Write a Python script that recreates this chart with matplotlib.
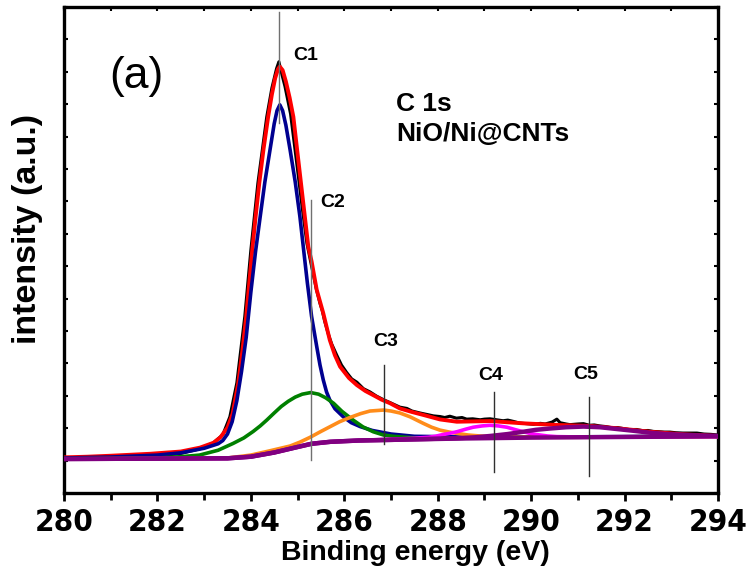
import matplotlib
matplotlib.use("Agg")
import matplotlib.pyplot as plt
from matplotlib.ticker import MultipleLocator
from matplotlib import font_manager
from matplotlib.font_manager import FontProperties

# ---------------- data ----------------
# binding energy (eV) / intensity (a.u.)
data_x = [280.0, 280.5, 281.0, 281.5, 282.0, 282.5, 282.9, 283.2, 283.4, 283.55,
          283.7, 283.87, 284.0, 284.15, 284.34, 284.45, 284.55, 284.6, 284.65, 284.73,
          284.85, 284.98, 285.1, 285.2, 285.3, 285.4, 285.48, 285.53, 285.58, 285.66,
          285.73, 285.84, 285.94, 286.05, 286.16, 286.27, 286.41, 286.55, 286.69, 286.84,
          286.98, 287.1, 287.19, 287.34, 287.45, 287.62, 287.75, 287.91, 288.05, 288.15,
          288.26, 288.4, 288.52, 288.62, 288.75, 288.91, 289.0, 289.12, 289.26, 289.4,
          289.5, 289.62, 289.75, 289.9, 290.05, 290.2, 290.3, 290.45, 290.55, 290.62,
          290.75, 290.83, 291.0, 291.12, 291.25, 291.35, 291.47, 291.6, 291.75, 291.85,
          291.97, 292.1, 292.26, 292.4, 292.5, 292.62, 292.75, 292.85, 292.97, 293.1,
          293.25, 293.4, 293.55, 293.7, 293.85, 294.0]
data_y = [1.05, 1.06, 1.08, 1.10, 1.14, 1.22, 1.36, 1.55, 1.80, 2.35,
          3.40, 5.45, 7.50, 9.56, 11.61, 12.50, 13.10, 13.31, 13.00, 12.55,
          11.70, 10.20, 8.80, 7.70, 7.00, 6.30, 5.85, 5.62, 5.30, 4.90,
          4.60, 4.25, 3.95, 3.72, 3.52, 3.42, 3.22, 3.12, 2.99, 2.88,
          2.79, 2.71, 2.65, 2.61, 2.53, 2.47, 2.43, 2.38, 2.36, 2.33,
          2.37, 2.31, 2.33, 2.28, 2.29, 2.26, 2.28, 2.29, 2.26, 2.23,
          2.25, 2.21, 2.16, 2.14, 2.12, 2.15, 2.13, 2.19, 2.28, 2.17,
          2.13, 2.11, 2.13, 2.14, 2.09, 2.10, 2.07, 2.05, 2.01, 2.02,
          1.99, 1.96, 1.96, 1.92, 1.93, 1.90, 1.89, 1.88, 1.88, 1.86,
          1.85, 1.85, 1.85, 1.82, 1.81, 1.79]

envelope_x = [280.0, 280.5, 281.0, 281.84, 282.5, 282.91, 283.2, 283.35, 283.5, 283.61,
              283.73, 283.82, 283.9, 284.03, 284.1, 284.18, 284.27, 284.37, 284.45, 284.52,
              284.58, 284.62, 284.68, 284.75, 284.83, 284.91, 284.99, 285.07, 285.15, 285.23,
              285.3, 285.41, 285.55, 285.69, 285.8, 285.91, 286.1, 286.27, 286.45, 286.62,
              286.8, 286.98, 287.19, 287.45, 287.69, 288.05, 288.41, 289.12, 289.83, 290.55,
              291.26, 291.83, 292.55, 293.26, 294.0]
envelope_y = [1.10, 1.12, 1.15, 1.21, 1.28, 1.40, 1.55, 1.72, 2.02, 2.45,
              3.39, 4.40, 5.44, 7.50, 8.50, 9.56, 10.60, 11.61, 12.30, 12.80,
              13.08, 13.16, 13.05, 12.70, 12.20, 11.61, 10.60, 9.60, 8.60, 7.60,
              7.15, 6.27, 5.55, 4.72, 4.25, 3.90, 3.55, 3.33, 3.15, 3.02,
              2.88, 2.77, 2.61, 2.50, 2.41, 2.27, 2.20, 2.22, 2.15, 2.10,
              2.07, 2.00, 1.89, 1.81, 1.76]

c1_x = [280.0, 281.0, 282.0, 282.5, 283.0, 283.3, 283.4, 283.5, 283.6, 283.7,
        283.8, 283.9, 284.0, 284.1, 284.2, 284.3, 284.41, 284.5, 284.56, 284.62,
        284.68, 284.75, 284.84, 284.95, 285.05, 285.13, 285.21, 285.3, 285.41, 285.48,
        285.55, 285.62, 285.69, 285.8, 285.98, 286.15, 286.34, 286.6, 287.0, 287.5,
        289.0, 292.0, 294.0]
c1_y = [1.08, 1.11, 1.17, 1.24, 1.38, 1.52, 1.62, 1.82, 2.20, 2.85,
        3.75, 4.80, 6.20, 7.45, 8.53, 9.60, 10.59, 11.40, 11.80, 11.98,
        11.80, 11.35, 10.59, 9.60, 8.53, 7.50, 6.48, 5.45, 4.52, 3.95,
        3.49, 3.12, 2.87, 2.60, 2.35, 2.17, 2.05, 1.93, 1.82, 1.75,
        1.72, 1.74, 1.75]

c2_x = [280.0, 282.0, 282.5, 282.9, 283.3, 283.62, 283.85, 284.05, 284.2, 284.34,
        284.5, 284.65, 284.8, 284.95, 285.1, 285.28, 285.45, 285.6, 285.77, 285.95,
        286.19, 286.4, 286.62, 286.84, 287.05, 287.5, 288.5, 290.0, 294.0]
c2_y = [1.06, 1.08, 1.12, 1.17, 1.32, 1.53, 1.70, 1.90, 2.07, 2.25,
        2.47, 2.67, 2.83, 2.96, 3.05, 3.10, 3.05, 2.94, 2.77, 2.52,
        2.25, 2.04, 1.89, 1.79, 1.75, 1.70, 1.70, 1.72, 1.75]

c3_x = [280.0, 283.5, 284.0, 284.4, 284.84, 285.05, 285.27, 285.5, 285.7, 285.9,
        286.12, 286.35, 286.55, 286.84, 287.0, 287.19, 287.41, 287.55, 287.69, 287.87,
        288.05, 288.25, 288.41, 288.65, 288.9, 289.3, 289.8, 291.0, 294.0]
c3_y = [1.05, 1.08, 1.17, 1.30, 1.45, 1.57, 1.72, 1.90, 2.05, 2.20,
        2.33, 2.45, 2.53, 2.56, 2.53, 2.47, 2.35, 2.25, 2.15, 2.03,
        1.94, 1.88, 1.84, 1.79, 1.76, 1.73, 1.72, 1.72, 1.74]

c4_x = [280.0, 283.5, 284.0, 284.5, 285.0, 285.3, 285.7, 286.3, 287.0, 287.5,
        287.8, 287.95, 288.1, 288.25, 288.41, 288.6, 288.76, 288.95, 289.12, 289.3,
        289.48, 289.65, 289.83, 290.0, 290.19, 290.35, 290.55, 291.0, 291.5, 294.0]
c4_y = [1.05, 1.07, 1.12, 1.25, 1.42, 1.52, 1.58, 1.62, 1.66, 1.69,
        1.72, 1.75, 1.80, 1.84, 1.89, 1.97, 2.03, 2.07, 2.09, 2.07,
        2.03, 1.96, 1.89, 1.83, 1.79, 1.76, 1.74, 1.73, 1.73, 1.74]

c5_x = [280.0, 283.5, 284.0, 284.5, 285.0, 285.3, 285.7, 286.3, 287.0, 288.41,
        288.8, 289.12, 289.5, 289.83, 290.1, 290.4, 290.75, 291.12, 291.47, 291.8,
        292.19, 292.55, 292.9, 293.5, 294.0]
c5_y = [1.05, 1.07, 1.12, 1.25, 1.42, 1.52, 1.58, 1.62, 1.64, 1.69,
        1.72, 1.76, 1.82, 1.89, 1.95, 1.99, 2.03, 2.05, 2.03, 1.98,
        1.92, 1.86, 1.82, 1.78, 1.76]

bg_x = [280.0, 283.5, 284.0, 284.5, 285.0, 285.3, 285.7, 286.3, 287.0, 288.4, 290.0, 292.0, 294.0]
bg_y = [1.05, 1.07, 1.12, 1.25, 1.42, 1.52, 1.58, 1.62, 1.64, 1.68, 1.71, 1.73, 1.75]

peak_labels = ["C1", "C2", "C3", "C4", "C5"]
peak_pos = [284.6, 285.29, 286.85, 289.21, 291.24]
peak_line_lo = [11.41, 1.02, 1.51, 0.65, 0.52]
peak_line_hi = [14.84, 9.04, 3.95, 3.11, 2.96]
label_x = [284.9, 285.48, 286.62, 288.87, 290.9]
label_y = [13.49, 8.98, 4.69, 3.64, 3.67]

x_ticks = [280, 282, 284, 286, 288, 290, 292, 294]

# ---------------- fonts ----------------
plt.rcParams["font.family"] = ["Liberation Sans", "DejaVu Sans"]


def find_narrow_bold():
    prefs = ["LiberationSansNarrow-Bold", "ArialNarrow-Bold", "Arial Narrow Bold",
             "OpenSans_Condensed-Bold", "OpenSansCondensed-Bold", "DejaVuSansCondensed-Bold"]
    files = [f.fname for f in font_manager.fontManager.ttflist]
    for p in prefs:
        for fn in files:
            if p.lower().replace(" ", "") in fn.lower().replace(" ", "").replace("_", ""):
                return fn
            if p.lower() in fn.lower():
                return fn
    return None


narrow_file = find_narrow_bold()
if narrow_file:
    tick_fp = FontProperties(fname=narrow_file, size=22.5)
else:
    tick_fp = FontProperties(family="Liberation Sans", weight="bold", size=21.5)

# ---------------- figure ----------------
W, H = 748, 579
fig = plt.figure(figsize=(W / 100, H / 100), dpi=100)
ax = fig.add_axes([64 / W, (H - 493) / H, 654 / W, 486 / H])

ax.plot(data_x, data_y, color="black", lw=2.2, zorder=2)
ax.plot(envelope_x, envelope_y, color="#ff0000", lw=2.8, zorder=3)
ax.plot(c1_x, c1_y, color="#000090", lw=2.6, zorder=4)
ax.plot(c2_x, c2_y, color="#008000", lw=2.6, zorder=4)
ax.plot(c3_x, c3_y, color="#ff8c1a", lw=2.6, zorder=4)
ax.plot(c4_x, c4_y, color="#ff00ff", lw=2.6, zorder=4)
ax.plot(bg_x, bg_y, color="#800080", lw=3.2, zorder=5)
ax.plot(c5_x, c5_y, color="#800080", lw=3.2, zorder=5)

line_cols = ["#707070", "#707070", "#303030", "#303030", "#303030"]
for p, lo, hi, c in zip(peak_pos, peak_line_lo, peak_line_hi, line_cols):
    ax.plot([p, p], [lo, hi], color=c, lw=1.0, zorder=6)
for lab, lx, ly in zip(peak_labels, label_x, label_y):
    ax.text(lx, ly, lab, fontsize=14, fontweight="bold", ha="left", va="center")

ax.text(281.54, 12.87, "(a)", fontsize=32, ha="center", va="center")
ax.text(287.11, 12.0, "C 1s", fontsize=19, fontweight="bold", ha="left", va="center")
ax.text(287.11, 11.08, "NiO/Ni@CNTs", fontsize=19, fontweight="bold", ha="left", va="center")

ax.set_xlim(280, 294)
ax.set_ylim(0, 15)
ax.set_xticks(x_ticks)
ax.xaxis.set_minor_locator(MultipleLocator(1))
ax.yaxis.set_major_locator(MultipleLocator(1))
ax.set_yticklabels([])
ax.tick_params(axis="x", which="major", direction="out", length=6, width=2, pad=5, top=False)
ax.tick_params(axis="x", which="minor", direction="out", length=5, width=2, top=False)
ax.tick_params(axis="y", which="both", direction="in", length=3, width=1.5, right=True)
for lab in ax.get_xticklabels():
    lab.set_fontproperties(tick_fp)

# top ticks (inward)
top = ax.secondary_xaxis("top")
top.set_xticks(range(280, 295))
top.tick_params(direction="in", length=3, width=1.5, labeltop=False)
top.spines["top"].set_visible(False)

for s in ax.spines.values():
    s.set_linewidth(2.4)

fig.text(415 / W, 1 - 553 / H, "Binding energy (eV)", fontsize=20.5, fontweight="bold",
         ha="center", va="center")
fig.text(28 / W, 1 - 229 / H, "intensity (a.u.)", fontsize=24.5, fontweight="bold",
         ha="center", va="center", rotation=90)

fig.savefig("out.png", dpi=100)
